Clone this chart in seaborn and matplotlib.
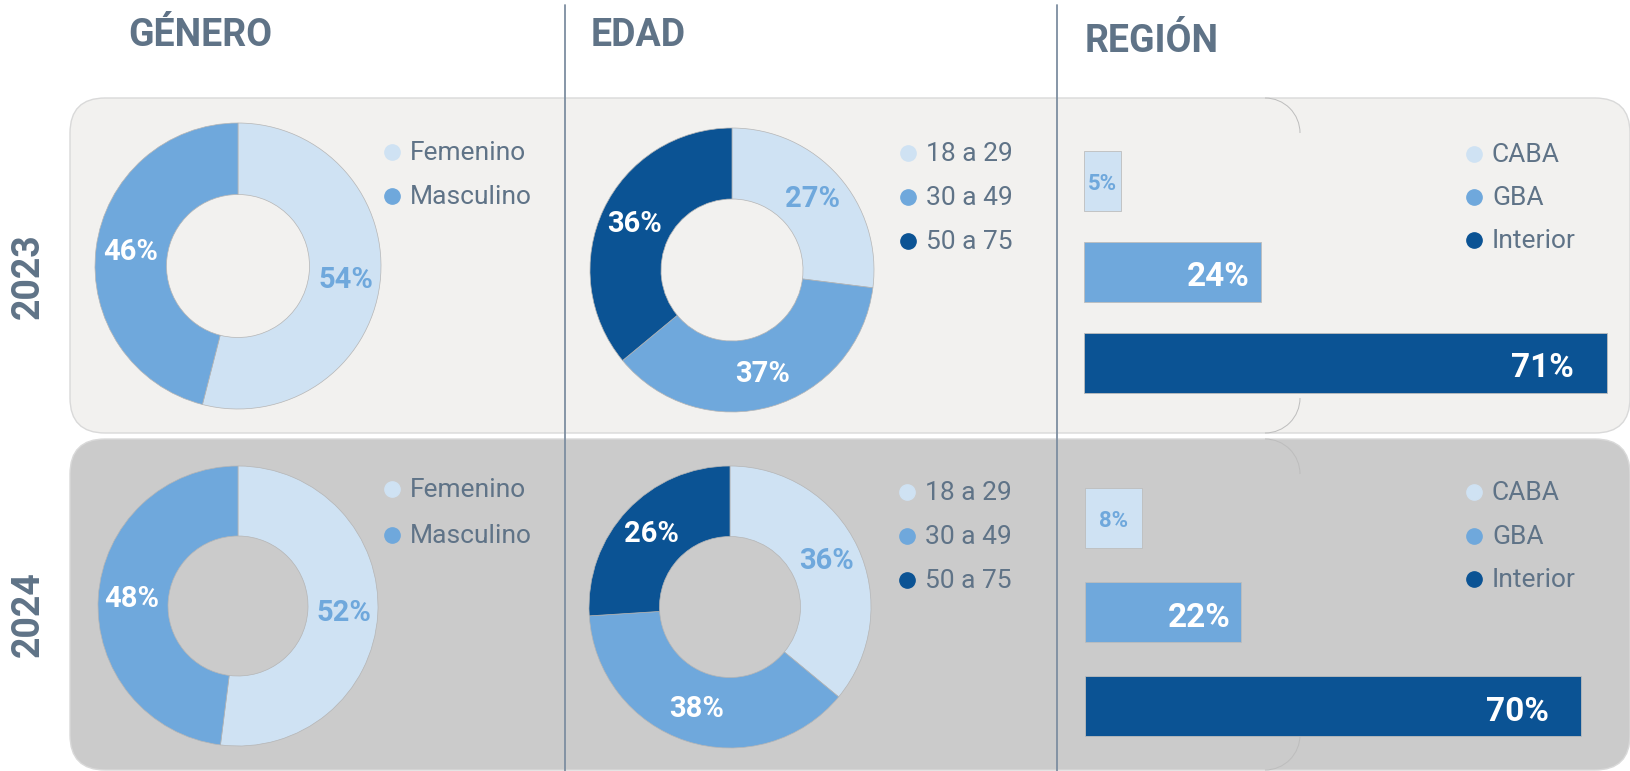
import matplotlib
matplotlib.use("Agg")
import matplotlib.pyplot as plt
import seaborn as sns
from matplotlib.patches import FancyBboxPatch, Arc

sns.set_theme(style="white")
plt.rcParams['font.family'] = ['Roboto', 'DejaVu Sans']

# datos
years = ["2023", "2024"]
genero_labels = ["Femenino", "Masculino"]
genero_2023 = [54, 46]
genero_2024 = [52, 48]
edad_labels = ["18 a 29", "30 a 49", "50 a 75"]
edad_2023 = [27, 37, 36]
edad_2024 = [36, 38, 26]
region_labels = ["CABA", "GBA", "Interior"]
region_2023 = [5, 24, 71]
region_2024 = [8, 22, 70]
titles = ["GÉNERO", "EDAD", "REGIÓN"]

LIGHT, MID, DARK = "#cfe2f3", "#6fa8dc", "#0b5394"
TXT = "#5f7387"
PANEL = ["#f2f1ef", "#cbcbcb"]

W, H = 1631, 771
fig = plt.figure(figsize=(W / 100, H / 100), dpi=100)
fig.patch.set_facecolor("white")


def px_axes(x, y, w, h):
    return fig.add_axes([x / W, 1 - (y + h) / H, w / W, h / H])


# fondo y decoracion (coordenadas en pixeles)
bg = px_axes(0, 0, W, H)
bg.set_xlim(0, W)
bg.set_ylim(H, 0)
bg.set_axis_off()

for (ytop, hgt), col in zip([(98, 335), (439, 331)], PANEL):
    bg.add_patch(FancyBboxPatch((70, ytop), W - 71, hgt,
                                boxstyle="round,pad=0,rounding_size=35",
                                facecolor=col, edgecolor="#d9d9d9", lw=1, zorder=0))
    bg.add_patch(Arc((1265, ytop + 35), 70, 70, theta1=270, theta2=360,
                     color="#bdbdbd", lw=0.7, zorder=1))
    bg.add_patch(Arc((1265, ytop + hgt - 35), 70, 70, theta1=0, theta2=90,
                     color="#bdbdbd", lw=0.7, zorder=1))

for xs in [565, 1057]:
    bg.plot([xs, xs], [5, H], color="#7d8ea0", lw=1.3, zorder=2)

for t, (tx, ty) in zip(titles, [(128, 36), (591, 35), (1085, 42)]):
    bg.text(tx, ty, t, ha="left", va="center", fontsize=27,
            fontweight="bold", color=TXT, zorder=3)

for yr, yy in zip(years, [276, 614]):
    bg.text(28, yy, yr, rotation=90, ha="center", va="center", fontsize=27,
            fontweight="bold", color=TXT, zorder=3)


def legend(x, y0, labels, colors, step=44):
    for i, (lab, c) in enumerate(zip(labels, colors)):
        bg.plot(x, y0 + i * step, "o", ms=11, color=c, zorder=3)
        bg.text(x + 18, y0 + i * step + 1, lab, ha="left", va="center",
                fontsize=19, color=TXT, zorder=3)


def donut(cx, cy, r, vals, colors):
    ax = px_axes(cx - r, cy - r, 2 * r, 2 * r)
    wedges, texts, autotexts = ax.pie(
        vals, colors=colors, startangle=90, counterclock=False, radius=1,
        wedgeprops=dict(width=0.5, edgecolor="#b5b5b5", linewidth=0.5),
        autopct="%.0f%%", pctdistance=0.76,
        textprops=dict(fontsize=21, fontweight="bold"))
    for t, c in zip(autotexts, colors):
        t.set_color(MID if c == LIGHT else "white")
    ax.set_xlim(-1, 1)
    ax.set_ylim(-1, 1)
    return ax


def bars(x0, ytop, w, h, vals, width):
    ax = px_axes(x0, ytop, w, h)
    sns.barplot(x=vals, y=region_labels, hue=region_labels,
                palette=[LIGHT, MID, DARK], saturation=1, orient="h",
                width=width, edgecolor="#bdbdbd", linewidth=0.6,
                legend=False, ax=ax)
    ax.set_xlim(0, 100)
    ax.set_ylim(2.5, -0.5)
    ax.set_axis_off()
    for i, v in enumerate(vals):
        if v < 10:
            ax.text(v / 2, i + 0.03, f"{v}%", ha="center", va="center",
                    fontsize=16, fontweight="bold", color=MID)
        else:
            ax.text(v * 0.935, i + 0.06, f"{v}%", ha="right", va="center",
                    fontsize=24, fontweight="bold", color="white")
    return ax


# 2023
donut(238, 266, 143, genero_2023, [LIGHT, MID])
legend(392, 152, genero_labels, [LIGHT, MID])
donut(732, 270, 142, edad_2023, [LIGHT, MID, DARK])
legend(908, 153, edad_labels, [LIGHT, MID, DARK])
bars(1084, 135.5, 737, 273, region_2023, 0.65)
legend(1474, 154, region_labels, [LIGHT, MID, DARK], step=43)

# 2024
donut(238, 606, 140, genero_2024, [LIGHT, MID])
legend(392, 489, genero_labels, [LIGHT, MID], step=46)
donut(730, 607, 141, edad_2024, [LIGHT, MID, DARK])
legend(907, 492, edad_labels, [LIGHT, MID, DARK])
bars(1085, 471, 709, 282, region_2024, 0.64)
legend(1474, 492, region_labels, [LIGHT, MID, DARK], step=43.5)

fig.savefig("out.png", dpi=100)
